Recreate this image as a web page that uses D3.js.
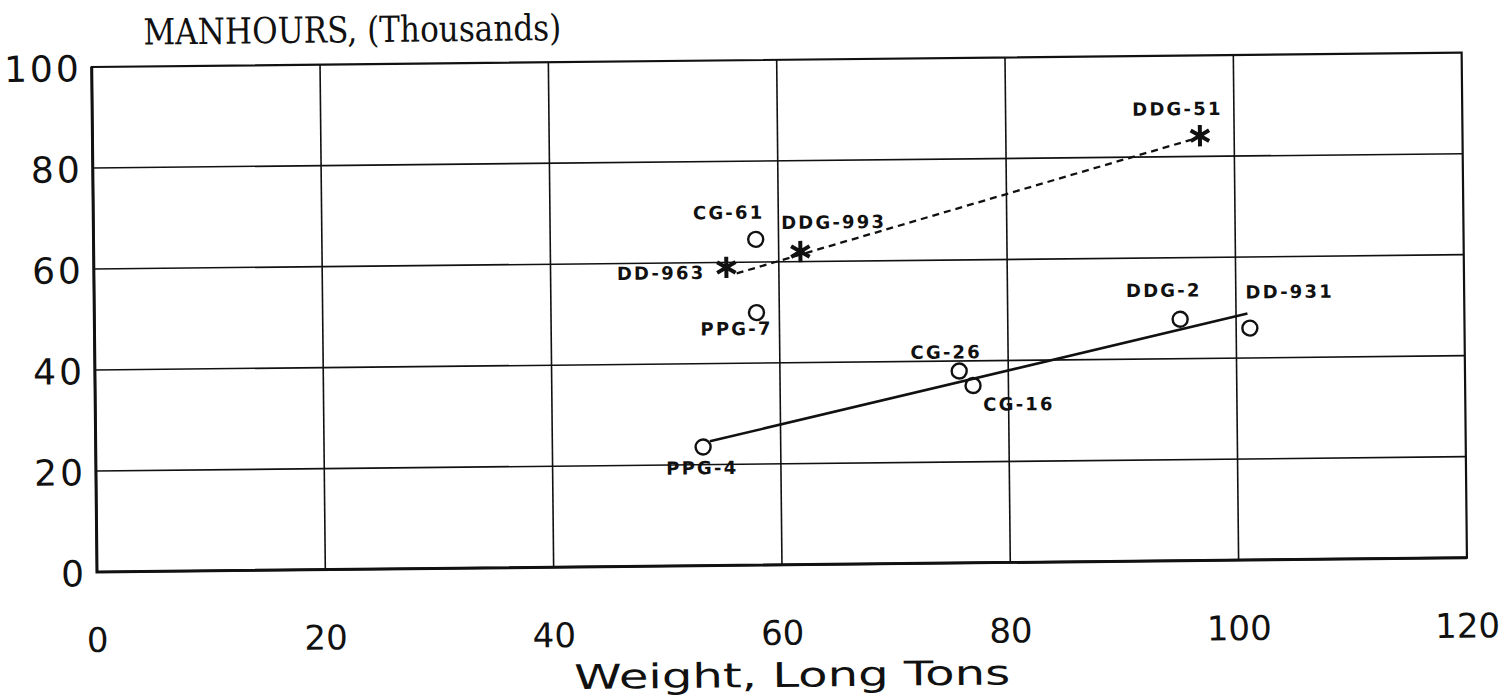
<!DOCTYPE html>
<html>
<head>
<meta charset="utf-8">
<script src="https://cdn.jsdelivr.net/npm/d3@7"></script>
<style>
  body { margin: 0; background: #fff; }
  svg { display: block; }
  .tick-label { font-family: "DejaVu Sans", sans-serif; font-size: 34px; fill: #111; }
  .ytick-label { font-family: "DejaVu Sans", sans-serif; font-size: 36px; letter-spacing: 3px; fill: #111; }
  .pt-label { font-family: "DejaVu Sans", sans-serif; font-weight: bold; font-size: 18px; letter-spacing: 2.2px; fill: #111; }
</style>
</head>
<body>
<div id="chart"></div>
<script>
// circle-marked ships (older designs)
const oldShips = ["PPG-4", "CG-26", "CG-16", "DDG-2", "DD-931", "CG-61", "PPG-7"];
const oldWeight = [53.2, 75.7, 76.9, 95.1, 101.2, 58.0, 58.0];
const oldHours = [23.5, 38.0, 35.1, 47.8, 45.9, 64.5, 50.0];

// star-marked ships
const newShips = ["DD-963", "DDG-993", "DDG-51"];
const newWeight = [55.4, 61.9, 97.0];
const newHours = [59.0, 62.0, 84.1];

// trend lines (end points)
const oldTrend = [[53.8, 24.6], [101.0, 48.8]];
const newTrend = [[56.3, 57.8], [96.2, 83.3]];

const xTicks = [0, 20, 40, 60, 80, 100, 120];
const yTicks = [0, 20, 40, 60, 80, 100];

// where each name sits relative to its marker
const labelPos = {
    "PPG-4":   { anchor: "middle", dx: -1,  dy: 21 },
    "CG-26":   { anchor: "end",    dx: 23,  dy: -19 },
    "CG-16":   { anchor: "start",  dx: 10,  dy: 19 },
    "DDG-2":   { anchor: "middle", dx: -16, dy: -29 },
    "DD-931":  { anchor: "start",  dx: -4,  dy: -36 },
    "CG-61":   { anchor: "end",    dx: 9,   dy: -27 },
    "PPG-7":   { anchor: "end",    dx: 16,  dy: 16 },
    "DD-963":  { anchor: "end",    dx: -21, dy: 5 },
    "DDG-993": { anchor: "start",  dx: -19, dy: -29 },
    "DDG-51":  { anchor: "end",    dx: 23,  dy: -27 }
};

class ManhourChart {
    constructor(parentElement) {
        this.parentElement = parentElement;
        this.initVis();
    }

    initVis() {
        let vis = this;

        let margin = { top: 67, right: 40, bottom: 124, left: 97 },
            width = 1507 - margin.left - margin.right,
            height = 696 - margin.top - margin.bottom;

        let svg = d3.select(vis.parentElement).append("svg")
            .attr("width", 1507)
            .attr("height", 696);

        // the scan is slightly rotated, so tilt the whole drawing
        let g = svg.append("g")
            .attr("transform", `rotate(-0.6, ${margin.left}, ${margin.top + height}) translate(${margin.left},${margin.top})`);

        let x = d3.scaleLinear().domain([0, 120]).range([0, width]);
        let y = d3.scaleLinear().domain([0, 100]).range([height, 0]);

        // grid
        g.selectAll(".vgrid")
            .data(xTicks.slice(1, -1))
            .join("line")
            .attr("x1", d => x(d)).attr("x2", d => x(d))
            .attr("y1", 0).attr("y2", height)
            .attr("stroke", "#111").attr("stroke-width", 1.6);

        g.selectAll(".hgrid")
            .data(yTicks.slice(1, -1))
            .join("line")
            .attr("x1", 0).attr("x2", width)
            .attr("y1", d => y(d)).attr("y2", d => y(d))
            .attr("stroke", "#111").attr("stroke-width", 1.6);

        g.append("rect")
            .attr("width", width).attr("height", height)
            .attr("fill", "none").attr("stroke", "#111").attr("stroke-width", 2.2);

        g.append("path")
            .attr("d", `M0,0V${height}H${width}`)
            .attr("fill", "none").attr("stroke", "#111").attr("stroke-width", 3);

        // tick labels
        g.selectAll(".xlab")
            .data(xTicks)
            .join("text")
            .attr("class", "tick-label")
            .attr("x", d => x(d))
            .attr("y", height + 80)
            .attr("text-anchor", "middle")
            .text(d => d);

        g.selectAll(".ylab")
            .data(yTicks)
            .join("text")
            .attr("class", "ytick-label")
            .attr("x", -10)
            .attr("y", d => y(d) + 14)
            .attr("text-anchor", "end")
            .text(d => d);

        // titles
        g.append("text")
            .attr("x", 52).attr("y", -22)
            .attr("font-family", "DejaVu Serif").attr("font-size", 36)
            .attr("textLength", 418).attr("lengthAdjust", "spacingAndGlyphs")
            .attr("fill", "#111")
            .text("MANHOURS, (Thousands)");

        g.append("text")
            .attr("x", 694).attr("y", height + 122)
            .attr("text-anchor", "middle")
            .attr("font-family", "DejaVu Sans").attr("font-size", 34)
            .attr("textLength", 436).attr("lengthAdjust", "spacingAndGlyphs")
            .attr("fill", "#111")
            .text("Weight, Long Tons");

        // trend lines
        let line = d3.line().x(d => x(d[0])).y(d => y(d[1]));

        g.append("path")
            .datum(oldTrend)
            .attr("d", line)
            .attr("fill", "none").attr("stroke", "#111").attr("stroke-width", 2.6);

        g.append("path")
            .datum(newTrend)
            .attr("d", line)
            .attr("fill", "none").attr("stroke", "#111").attr("stroke-width", 2.3)
            .attr("stroke-dasharray", "7,5");

        let oldData = oldShips.map((s, i) => ({ name: s, w: oldWeight[i], h: oldHours[i] }));
        let newData = newShips.map((s, i) => ({ name: s, w: newWeight[i], h: newHours[i] }));

        g.selectAll(".old")
            .data(oldData)
            .join("circle")
            .attr("cx", d => x(d.w))
            .attr("cy", d => y(d.h))
            .attr("r", 7.5)
            .attr("fill", "none").attr("stroke", "#111").attr("stroke-width", 2.4);

        g.selectAll(".new")
            .data(newData)
            .join("path")
            .attr("transform", d => `translate(${x(d.w)},${y(d.h)})`)
            .attr("d", d3.symbol(d3.symbolAsterisk, 320))
            .attr("fill", "none").attr("stroke", "#111").attr("stroke-width", 4);

        // names
        g.selectAll(".pt-label")
            .data(oldData.concat(newData))
            .join("text")
            .attr("class", "pt-label")
            .attr("x", d => x(d.w) + labelPos[d.name].dx)
            .attr("y", d => y(d.h) + labelPos[d.name].dy)
            .attr("dy", "0.35em")
            .attr("text-anchor", d => labelPos[d.name].anchor)
            .text(d => d.name);
    }
}

new ManhourChart("#chart");
</script>
</body>
</html>
